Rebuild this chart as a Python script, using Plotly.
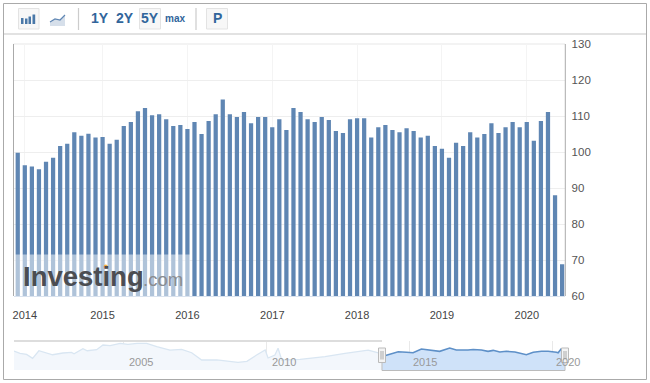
import plotly.graph_objects as go

W, H = 650, 383

# ---------- data ----------
months = [f"{y}-{m:02d}" for y in range(2014, 2021) for m in range(1, 13)][:78]
values = [99.8, 96.3, 96.0, 95.2, 97.3, 98.4, 101.7, 102.3, 105.5, 104.5, 105.1, 104.0,
          104.2, 102.3, 103.4, 107.2, 108.3, 111.3, 112.2, 110.2, 110.5, 109.1, 107.2, 107.5,
          106.4, 108.3, 105.0, 108.6, 110.5, 114.6, 110.5, 109.7, 111.1, 108.0, 109.7, 109.7,
          106.9, 109.1, 106.1, 112.2, 111.1, 109.1, 108.3, 109.7, 108.9, 105.8, 105.3, 109.1,
          109.4, 109.4, 104.0, 106.9, 107.5, 106.1, 105.5, 106.6, 105.8, 104.0, 104.5, 101.7,
          100.9, 98.4, 102.6, 101.7, 105.5, 104.0, 105.0, 108.0, 105.3, 106.9, 108.3, 106.9,
          108.3, 103.1, 108.6, 111.1, 88.0, 68.8]
x_tick_vals = ["2014-02", "2015-01", "2016-01", "2017-01", "2018-01", "2019-01", "2020-01"]
x_tick_text = ["2014", "2015", "2016", "2017", "2018", "2019", "2020"]
y_ticks = [60, 70, 80, 90, 100, 110, 120, 130]

nav_old_years = [2001.19, 2001.4, 2001.63, 2001.84, 2002.06, 2002.33, 2002.54, 2002.9, 2003.2, 2003.29,
                 2003.6, 2003.75, 2004.08, 2004.3, 2004.55, 2004.9, 2005.17, 2005.49, 2005.83, 2006.18,
                 2006.64, 2007.05, 2007.4, 2007.75, 2008.28, 2009.02, 2009.33, 2009.67, 2009.97, 2010.07,
                 2010.31, 2010.42, 2010.55, 2011.19, 2011.54, 2012.06, 2012.76, 2013.57, 2013.99, 2014.06]
nav_old_values = [108.6, 104.7, 102.9, 96.0, 109.1, 105.7, 102.2, 105.2, 106.4, 104.0,
                  112.6, 109.1, 110.9, 119.0, 117.8, 121.9, 120.2, 121.9, 121.9, 116.0,
                  110.3, 111.6, 105.7, 93.1, 93.4, 89.1, 90.9, 101.7, 110.3, 96.6,
                  101.7, 113.3, 93.1, 94.3, 96.0, 98.8, 104.7, 110.3, 104.7, 99.1]
nav_new_years = [2014.06, 2014.17, 2014.38, 2014.62, 2014.91, 2015.14, 2015.43, 2015.66, 2016.07, 2016.42,
                 2016.65, 2017.06, 2017.24, 2017.53, 2017.76, 2017.94, 2018.17, 2018.4, 2018.7, 2019.1,
                 2019.34, 2019.63, 2019.86, 2020.15, 2020.21, 2020.32, 2020.44]
nav_new_values = [99.1, 100.5, 104.0, 107.4, 106.4, 105.7, 112.1, 110.9, 108.1, 113.8,
                  110.3, 110.3, 111.2, 110.3, 108.1, 109.8, 106.9, 108.1, 106.9, 102.2,
                  106.4, 108.1, 108.1, 106.4, 105.5, 112.6, 112.6]
nav_labels = ["2005", "2010", "2015", "2020"]
nav_label_years = [2005, 2010, 2015, 2020]
toolbar_labels = ["1Y", "2Y", "5Y", "max", "P"]


def px(x):
    return x / W


def py(y):
    return 1 - y / H


fig = go.Figure()
fig.add_trace(go.Bar(x=months, y=values, marker=dict(color="#5f86b3", line=dict(width=0)),
                     xaxis="x", yaxis="y", hoverinfo="skip"))
fig.add_trace(go.Scatter(x=nav_old_years, y=nav_old_values, mode="lines", fill="tozeroy",
                         fillcolor="#f3f7fc", line=dict(color="#d9e6f2", width=1.3),
                         xaxis="x2", yaxis="y2", hoverinfo="skip"))
fig.add_trace(go.Scatter(x=nav_new_years, y=nav_new_values, mode="lines", fill="tozeroy",
                         fillcolor="#cfe2f9", line=dict(color="#5e90c8", width=1.6),
                         xaxis="x2", yaxis="y2", hoverinfo="skip"))

shapes = []


def rect(x0, y0, x1, y1, fill=None, line=None, lw=1, layer="above", opacity=None):
    s = dict(type="rect", xref="paper", yref="paper", x0=px(x0), x1=px(x1), y0=py(y0), y1=py(y1),
             fillcolor=fill or "rgba(0,0,0,0)", line=dict(color=line or "rgba(0,0,0,0)", width=lw if line else 0),
             layer=layer)
    if opacity is not None:
        s["opacity"] = opacity
    shapes.append(s)


def line(x0, y0, x1, y1, color, lw=1, layer="above"):
    shapes.append(dict(type="line", xref="paper", yref="paper", x0=px(x0), x1=px(x1), y0=py(y0), y1=py(y1),
                       line=dict(color=color, width=lw), layer=layer))


# outer frame and toolbar
rect(3.5, 3.5, 646.5, 379.5, line="#aaaaaa", lw=1, layer="below")
line(4, 34, 646, 34, "#e2e2e2", 2)
rect(18.5, 8.5, 39, 29, fill="#f7f7f7", line="#e3e3e3")
rect(139.5, 8.5, 160.5, 29, fill="#f7f7f7", line="#e3e3e3")
rect(206.5, 8.5, 227.5, 29, fill="#f7f7f7", line="#e3e3e3")
line(78.5, 8, 78.5, 30, "#cccccc", 1.2)
line(196, 8, 196, 30, "#cccccc", 1.2)
for x0, x1, top in [(21, 23.5, 18), (25, 27.5, 18.5), (28.5, 31, 16.5), (32.5, 35.2, 14.5)]:
    rect(x0, top, x1, 24, fill="#4a78a8")
shapes.append(dict(type="path", xref="paper", yref="paper",
                   path=f"M {px(50)} {py(22)} L {px(55)} {py(19)} L {px(60)} {py(20)} L {px(65)} {py(15)} "
                        f"L {px(65)} {py(26)} L {px(50)} {py(26)} Z",
                   fillcolor="#d6dfea", line=dict(width=0), layer="above"))
shapes.append(dict(type="path", xref="paper", yref="paper",
                   path=f"M {px(50)} {py(22)} L {px(55)} {py(19)} L {px(60)} {py(20)} L {px(65)} {py(15)}",
                   line=dict(color="#5f86b3", width=1.2), layer="above"))

# main plot side axes
line(13.5, 44, 13.5, 296, "#aaaaaa", 1)
line(565.3, 44, 565.3, 296, "#aaaaaa", 1)
line(13.5, 44, 565, 44, "#f3f3f3", 2, layer="below")

# watermark band
rect(14, 254.5, 190, 296, fill="#ffffff", opacity=0.5)
shapes.append(dict(type="circle", xref="paper", yref="paper", x0=px(103.6), x1=px(107.8), y0=py(264.6), y1=py(268.8),
                   fillcolor="#f5b23e", line=dict(width=0), layer="above"))

# navigator frame
line(14, 341, 382, 341, "#dddddd", 2)
line(382, 370.5, 565, 370.5, "#bbbbbb", 1)
line(382, 349, 382, 370.5, "#bbbbbb", 1)
line(565, 349, 565, 370.5, "#bbbbbb", 1)
for hx in (382, 565):
    rect(hx - 3.5, 348, hx + 3.5, 362.5, fill="#f4f4f4", line="#bbbbbb")
    line(hx - 1, 351, hx - 1, 359.5, "#aaaaaa", 1)
    line(hx + 1, 351, hx + 1, 359.5, "#aaaaaa", 1)

annotations = []


def text(x, y, s, size, color, family="Liberation Sans, Arial, sans-serif", anchor="center", bold=False):
    annotations.append(dict(xref="paper", yref="paper", x=px(x), y=py(y), text=f"<b>{s}</b>" if bold else s,
                            showarrow=False, xanchor=anchor, yanchor="middle", borderpad=0, borderwidth=0,
                            font=dict(size=size, color=color, family=family)))


for label, x, size in zip(toolbar_labels, [99.5, 125, 150, 175, 217], [14, 14, 14, 10, 14]):
    text(x, 18.5, label, size, "#31659b", bold=True)
text(22.5, 276.5, "Investing", 27.5, "#4b4d52", anchor="left", bold=True)
text(143, 279.5, ".com", 18.5, "#8a8c90", anchor="left")
for label, year, shift in zip(nav_labels, nav_label_years, [18, 18, 16, 16]):
    annotations.append(dict(xref="x2", yref="paper", x=year, y=py(362), text=label, showarrow=False,
                            xshift=shift, xanchor="center", yanchor="middle", borderpad=0,
                            font=dict(size=11, color="#999999", family="Liberation Sans, Arial, sans-serif")))

font = "Liberation Sans, Arial, sans-serif"
fig.update_layout(
    width=W, height=H, autosize=False, margin=dict(l=0, r=0, t=0, b=0, pad=0, autoexpand=False),
    paper_bgcolor="white", plot_bgcolor="white",
    showlegend=False, bargap=0.4, hovermode=False, shapes=shapes, annotations=annotations,
    font=dict(family=font),
    xaxis=dict(domain=[px(13.5), px(565.3)], type="category", categoryorder="array", categoryarray=months,
               range=[-0.6, 77.45], tickmode="array", tickvals=x_tick_vals, ticktext=x_tick_text,
               showgrid=True, gridcolor="#f4f4f4", gridwidth=1, showline=True, linecolor="#d9e2ee", linewidth=1,
               ticks="outside", ticklen=9, tickcolor="rgba(0,0,0,0)", automargin=False,
               tickfont=dict(size=11, color="#444444", family=font), anchor="y", fixedrange=True),
    yaxis=dict(domain=[py(296), py(44)], range=[60, 130], tickmode="array", tickvals=y_ticks,
               side="right", showgrid=True, gridcolor="#eeeeee", gridwidth=1, zeroline=False,
               ticks="outside", ticklen=3, tickcolor="rgba(0,0,0,0)", automargin=False,
               tickfont=dict(size=11.5, color="#555555", family=font), anchor="x", fixedrange=True),
    xaxis2=dict(domain=[px(14), px(565)], range=[2001.19, 2020.45], tickmode="array", tickvals=nav_label_years,
                showticklabels=False, showgrid=True, gridcolor="#e9e9e9", zeroline=False, anchor="y2", fixedrange=True),
    yaxis2=dict(domain=[py(370), py(341)], range=[75.9, 125.9], visible=False, anchor="x2", fixedrange=True),
)

fig.write_html("out.html", config=dict(displayModeBar=False),
               post_script="document.body.style.margin='0';document.body.style.overflow='hidden';")
